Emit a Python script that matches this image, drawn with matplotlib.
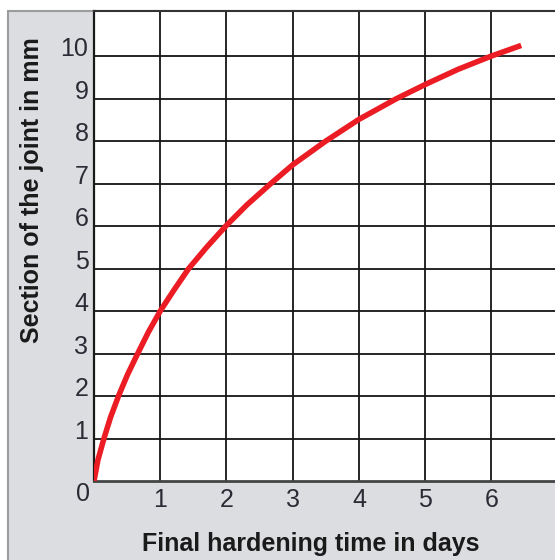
import matplotlib
matplotlib.use("Agg")
import matplotlib.pyplot as plt
from matplotlib.patches import Rectangle

# Data
days = [0, 0.06, 0.15, 0.25, 0.37, 0.505, 0.66, 0.82, 1.0, 1.21, 1.43, 1.70, 1.99,
        2.31, 2.67, 3.0, 3.5, 4.0, 4.57, 5.0, 5.5, 6.0, 6.45]
section_mm = [0, 0.5, 1.0, 1.5, 2.0, 2.5, 3.0, 3.5, 4.0, 4.5, 5.0, 5.5, 6.0,
              6.5, 7.0, 7.44, 8.0, 8.51, 9.0, 9.33, 9.69, 10.0, 10.25]
x_ticks = [1, 2, 3, 4, 5, 6]
y_ticks = [1, 2, 3, 4, 5, 6, 7, 8, 9, 10]
x_label = "Final hardening time in days"
y_label = "Section of the joint in mm"

plt.rcParams['font.family'] = ['Liberation Sans', 'DejaVu Sans']

W, H = 555, 560
fig = plt.figure(figsize=(W / 100, H / 100), dpi=100, facecolor='white')

# grey panel behind the chart
panel = Rectangle((8 / W, -0.05), 1.1, 1 - 11 / H + 0.05, transform=fig.transFigure,
                  facecolor='#dcdde1', edgecolor='#9c9c9c', linewidth=1.5, zorder=-5)
fig.patches.append(panel)

ax = fig.add_axes([94 / W, 1 - 481 / H, 1 - 94 / W, (481 - 11) / H])
ax.set_zorder(2)
ax.set_facecolor('white')
ax.set_xlim(0, 6.96)
ax.set_ylim(0, 11.06)

ax.set_xticks(x_ticks)
ax.set_yticks(y_ticks)
ax.grid(True, color='#151515', linewidth=1.3)
ax.set_axisbelow(True)

ax.plot(days, section_mm, color='#ec1c24', linewidth=4.0, solid_capstyle='butt',
        solid_joinstyle='round', zorder=3)

ax.tick_params(length=0, labelsize=18, labelcolor='#2b2b35')
ax.tick_params(axis='x', pad=5)
ax.tick_params(axis='y', pad=4)
for lab in ax.get_yticklabels():
    lab.set_verticalalignment('baseline')

ax.annotate('0', xy=(0, 0), xytext=(-8, -9.5), textcoords='offset points',
            ha='center', va='center', fontsize=18, color='#2b2b35')

ax.spines['right'].set_visible(False)
ax.spines['top'].set_color('#333333')
ax.spines['top'].set_linewidth(1.5)
ax.spines['left'].set_color('#1a1a1a')
ax.spines['left'].set_linewidth(1.6)
ax.spines['bottom'].set_color('#444444')
ax.spines['bottom'].set_linewidth(2.0)

ax.set_xlabel(x_label, fontsize=18, fontweight='bold', color='#1a1a1a')
ax.xaxis.label.set_verticalalignment('center')
ax.xaxis.set_label_coords((311 - 94) / (W - 94), (481 - 544) / 470)
ax.set_ylabel(y_label, fontsize=18, fontweight='bold', color='#1a1a1a')
ax.yaxis.label.set_verticalalignment('center')
ax.yaxis.set_label_coords((32 - 94) / (W - 94), (481 - 190) / 470)

fig.savefig('out.png', dpi=100, facecolor='white')
